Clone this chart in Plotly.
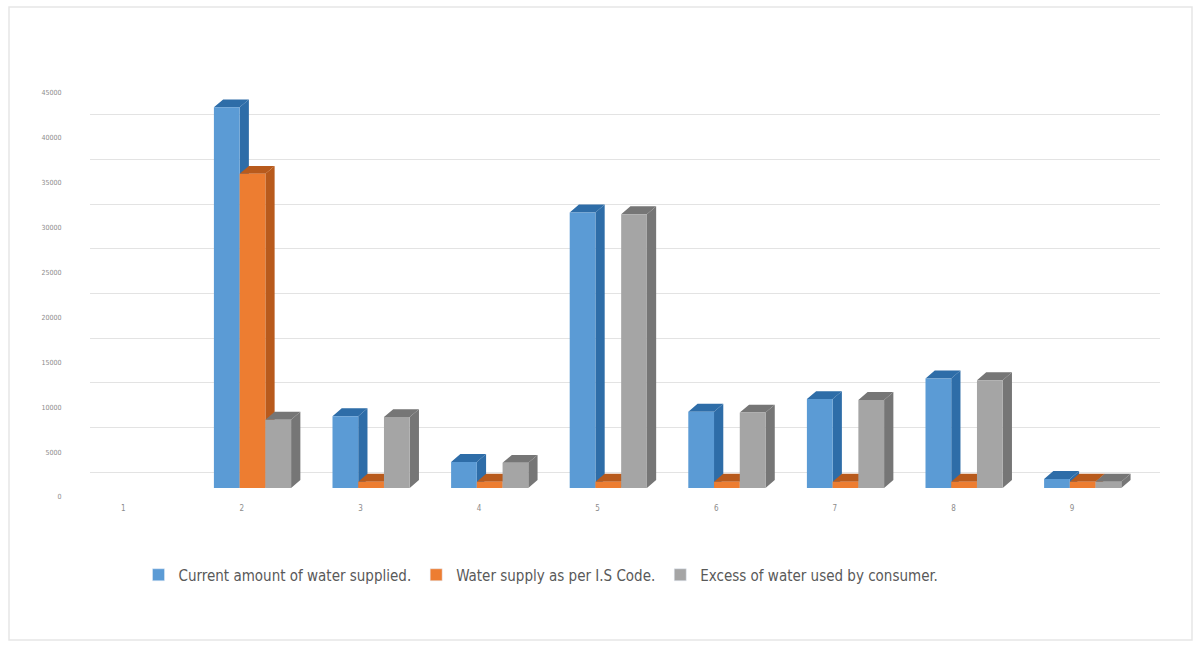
import plotly.graph_objects as go

# Household water data, per case number
categories = [1, 2, 3, 4, 5, 6, 7, 8, 9]
current_supplied = [0, 42400, 8000, 2900, 30700, 8500, 9900, 12200, 1000]
is_code_supply = [0, 35000, 700, 700, 700, 700, 700, 700, 700]
excess_used = [0, 7600, 7900, 2800, 30500, 8400, 9800, 12000, 700]
y_ticks = [0, 5000, 10000, 15000, 20000, 25000, 30000, 35000, 40000, 45000]

series = [
    ("Current amount of water supplied.", current_supplied, "#5B9BD5", "#2E6DA8", -1),
    ("Water supply as per I.S Code.", is_code_supply, "#ED7D31", "#B85A1C", 0),
    ("Excess of water used by consumer.", excess_used, "#A5A5A5", "#767676", 1),
]

BAR_W = 0.217      # front face width (category units)
DEPTH_X = 0.078    # receding depth, horizontal
DEPTH_Y = 880      # receding depth, vertical (value units)
FONT = "Liberation Sans Narrow, DejaVu Sans Condensed, Roboto, sans-serif"

fig = go.Figure()

# Back-wall gridlines: first subplot (x/y), so everything else sits on top
fig.add_trace(go.Scatter(x=[None], y=[None], xaxis="x", yaxis="y",
                         showlegend=False, hoverinfo="skip"))

# Bars on the front subplot (x2/y2)
for name, vals, front, shade, slot in series:
    sx, sy, tx, ty, fx, fy = [], [], [], [], [], []
    for c, v in zip(categories, vals):
        if v <= 0:
            continue
        xc = c + slot * BAR_W
        x0, x1 = xc - BAR_W / 2, xc + BAR_W / 2
        # right side face
        sx += [x1, x1, x1 + DEPTH_X, x1 + DEPTH_X, x1, None]
        sy += [0, v, v + DEPTH_Y, DEPTH_Y, 0, None]
        # top face
        tx += [x0, x1, x1 + DEPTH_X, x0 + DEPTH_X, x0, None]
        ty += [v, v, v + DEPTH_Y, v + DEPTH_Y, v, None]
        # front face
        fx += [x0, x1, x1, x0, x0, None]
        fy += [0, 0, v, v, 0, None]
    for xs, ys, col in ((sx, sy, shade), (tx, ty, shade), (fx, fy, front)):
        fig.add_trace(go.Scatter(
            x=xs, y=ys, xaxis="x2", yaxis="y2", mode="lines", fill="toself",
            fillcolor=col, line=dict(width=0, color=col), name=name,
            showlegend=False, legendgroup=name, hoverinfo="skip",
        ))

# Square legend keys
for name, vals, front, shade, slot in series:
    fig.add_trace(go.Bar(x=[None], y=[None], xaxis="x2", yaxis="y2", name=name,
                         marker_color=front, legendgroup=name, showlegend=True))

W, H = 1197, 648
fig.update_layout(
    width=W, height=H,
    margin=dict(l=0, r=0, t=0, b=0, autoexpand=False),
    paper_bgcolor="white", plot_bgcolor="rgba(0,0,0,0)",
    font=dict(family=FONT, color="#595959"),
    xaxis=dict(
        domain=[90 / W, 1160 / W], range=[0.5, 9.5], anchor="y", automargin=False,
        showgrid=False, zeroline=False, showticklabels=False, ticks="",
    ),
    yaxis=dict(
        domain=[(H - 472) / H, (H - 70) / H], range=[0, 45000], anchor="x",
        automargin=False, tickvals=y_ticks, showgrid=True, gridcolor="#E3E3E3",
        gridwidth=1, zeroline=True, zerolinecolor="#E3E3E3", zerolinewidth=1,
        showticklabels=False, ticks="",
    ),
    xaxis2=dict(
        domain=[74.6 / W, 1142 / W], range=[0.5, 9.5], anchor="y2", automargin=False,
        tickvals=[c - 0.09 for c in categories], ticktext=[str(c) for c in categories],
        showgrid=False, zeroline=False, showline=False, ticks="",
        tickfont=dict(size=8, color="#8C8C8C"), ticklabelstandoff=14,
    ),
    yaxis2=dict(
        domain=[(H - 488) / H, (H - 84) / H], range=[0, 45000], anchor="x2",
        automargin=False, tickvals=y_ticks, ticktext=[str(t) for t in y_ticks],
        showgrid=False, zeroline=False, showline=False, ticks="",
        tickfont=dict(size=7, color="#8C8C8C"), ticklabelstandoff=12,
        ticklabelshift=9,
    ),
    legend=dict(
        orientation="h", x=541 / W, xanchor="center", y=(H - 575) / H, yanchor="middle",
        font=dict(family=FONT, size=15, color="#595959"),
        bgcolor="rgba(0,0,0,0)", itemwidth=30, tracegroupgap=0,
    ),
    showlegend=True,
    shapes=[dict(type="rect", xref="paper", yref="paper",
                 x0=9 / W, x1=1192 / W, y0=(H - 640) / H, y1=(H - 7) / H,
                 line=dict(color="#E6E6E6", width=1.5), layer="below")],
)

fig.write_html("out.html")
